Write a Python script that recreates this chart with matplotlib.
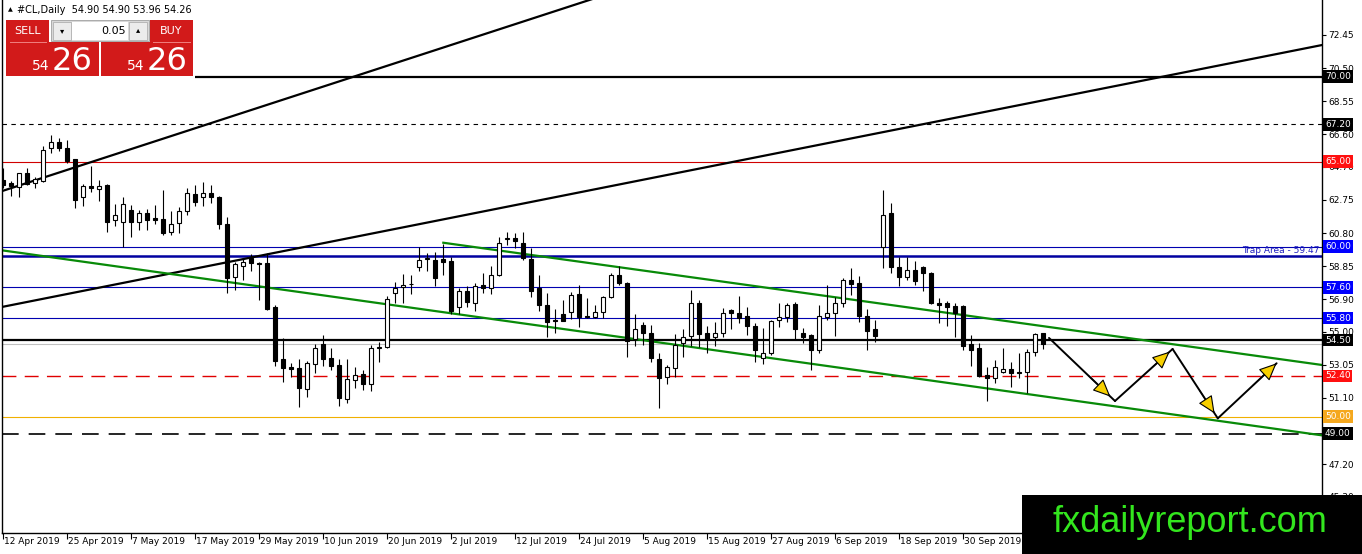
import numpy as np
import matplotlib
matplotlib.use('Agg')
import matplotlib.pyplot as plt
from matplotlib.patches import Rectangle
import matplotlib.transforms as mtransforms

# daily candles of #CL, 12 Apr 2019 .. 14 Oct 2019
opens = [63.92, 63.76, 63.53, 64.31, 63.76, 63.88, 65.78, 66.14, 65.80, 65.14,
         62.90, 63.57, 63.37, 63.63, 61.57, 61.43, 62.16, 61.43, 61.96, 61.67,
         61.63, 60.88, 61.37, 62.10, 63.10, 62.90, 63.18, 62.90, 61.33, 58.20,
         58.88, 59.31, 59.06, 59.06, 56.43, 53.37, 52.90, 52.84, 51.61, 53.10,
         54.27, 53.43, 53.04, 51.02, 52.16, 52.51, 51.92, 54.04, 54.08, 57.26,
         57.64, 57.78, 58.82, 59.28, 59.21, 59.25, 59.17, 56.47, 57.41, 56.70,
         57.74, 57.55, 58.33, 60.43, 60.49, 60.23, 59.25, 57.55, 56.57, 55.67,
         56.04, 56.17, 57.21, 55.92, 55.88, 56.17, 57.02, 58.33, 57.84, 54.55,
         55.39, 54.90, 53.37, 52.35, 52.84, 54.31, 54.74, 56.70, 54.90, 54.70,
         54.94, 56.27, 56.08, 55.92, 55.33, 53.43, 53.73, 55.68, 55.84, 56.63,
         54.94, 54.80, 53.94, 55.88, 56.12, 56.70, 58.04, 57.84, 55.92, 55.14,
         60.00, 62.00, 58.78, 58.20, 58.63, 58.82, 58.43, 56.67, 56.70, 56.51,
         56.51, 54.27, 54.02, 52.45, 52.26, 52.65, 52.79, 52.62, 52.65, 53.82,
         54.90]
highs = [64.63, 63.86, 64.31, 64.61, 64.08, 65.92, 66.57, 66.37, 66.27, 65.14,
         63.69, 64.74, 63.92, 63.69, 62.51, 62.90, 62.45, 62.16, 62.20, 62.45,
         63.33, 62.11, 62.31, 63.43, 63.63, 63.82, 63.63, 62.98, 61.73, 59.12,
         59.26, 59.57, 59.12, 59.64, 56.57, 54.61, 53.17, 53.37, 53.29, 54.27,
         54.80, 54.02, 53.37, 53.37, 52.94, 52.74, 54.21, 54.41, 57.10, 57.94,
         58.39, 58.33, 59.96, 59.64, 59.70, 60.16, 59.41, 57.55, 57.69, 57.88,
         58.43, 58.86, 60.55, 60.88, 60.78, 60.88, 59.90, 58.33, 57.26, 56.31,
         56.86, 57.35, 57.74, 56.96, 56.57, 57.10, 58.47, 58.86, 57.94, 56.04,
         55.59, 55.39, 53.76, 53.04, 54.86, 55.14, 57.45, 56.86, 55.33, 55.59,
         56.37, 56.31, 57.10, 56.47, 55.53, 55.20, 55.68, 56.67, 56.70, 56.76,
         55.20, 54.86, 56.57, 57.74, 57.02, 58.14, 58.73, 58.27, 56.31, 55.68,
         63.33, 62.55, 59.37, 59.37, 59.17, 58.86, 58.53, 56.96, 56.82, 56.70,
         56.57, 54.80, 54.35, 52.94, 53.33, 54.02, 53.23, 53.76, 53.96, 54.94,
         54.90]
lows = [63.45, 62.98, 62.94, 63.63, 63.43, 63.82, 65.53, 65.64, 64.90, 62.26,
        62.39, 63.23, 62.70, 60.88, 61.21, 59.96, 60.59, 60.98, 60.98, 61.33,
        60.69, 60.69, 60.82, 61.86, 62.39, 62.39, 62.55, 61.02, 57.29, 57.45,
        58.04, 58.59, 56.86, 56.27, 52.98, 52.06, 52.35, 50.55, 51.14, 52.59,
        52.98, 52.74, 50.63, 50.82, 51.67, 51.57, 51.53, 53.23, 54.02, 56.67,
        56.70, 57.21, 58.59, 58.58, 57.69, 58.33, 56.04, 56.04, 56.43, 56.23,
        57.26, 57.21, 58.27, 60.10, 59.90, 59.21, 57.06, 56.23, 54.71, 54.94,
        55.64, 55.72, 55.29, 55.78, 55.78, 55.78, 56.96, 57.74, 53.53, 54.17,
        54.21, 53.23, 50.49, 51.92, 52.31, 53.53, 54.16, 54.12, 53.72, 54.16,
        54.70, 55.14, 55.53, 54.80, 53.23, 53.10, 53.63, 55.29, 55.59, 54.55,
        54.31, 52.74, 53.76, 55.68, 54.74, 56.47, 57.16, 55.59, 53.92, 54.41,
        58.73, 58.47, 57.70, 58.06, 57.74, 57.41, 56.63, 55.53, 55.33, 54.71,
        53.92, 52.98, 52.35, 50.94, 51.96, 52.55, 51.76, 52.25, 51.37, 53.57,
        53.96]
closes = [63.63, 63.57, 64.31, 63.67, 63.96, 65.69, 66.14, 65.78, 65.06, 62.74,
          63.57, 63.43, 63.57, 61.47, 61.86, 62.49, 61.43, 61.96, 61.57, 61.57,
          60.79, 61.33, 62.11, 63.14, 62.65, 63.14, 62.94, 61.33, 58.14, 58.98,
          59.12, 59.02, 58.98, 56.31, 53.29, 52.84, 52.82, 51.67, 53.14, 54.02,
          53.37, 52.98, 51.08, 52.20, 52.45, 51.92, 54.02, 54.12, 56.90, 57.55,
          57.74, 57.83, 59.21, 59.33, 58.14, 59.12, 56.23, 57.41, 56.76, 57.69,
          57.55, 58.33, 60.23, 60.49, 60.35, 59.31, 57.41, 56.57, 55.59, 55.63,
          55.64, 57.16, 55.88, 55.88, 56.14, 57.02, 58.33, 57.84, 54.47, 55.14,
          54.94, 53.43, 52.26, 52.90, 54.21, 54.70, 56.67, 54.86, 54.55, 54.90,
          56.12, 56.12, 55.78, 55.33, 53.92, 53.76, 55.64, 55.88, 56.57, 55.14,
          54.70, 53.94, 55.92, 56.12, 56.67, 58.04, 57.80, 55.92, 55.06, 54.74,
          61.86, 58.78, 58.20, 58.63, 58.00, 58.47, 56.70, 56.59, 56.47, 56.12,
          54.16, 53.92, 52.39, 52.26, 52.94, 52.79, 52.55, 52.57, 53.82, 54.86,
          54.26]

date_labels = ['12 Apr 2019', '25 Apr 2019', '7 May 2019', '17 May 2019', '29 May 2019',
               '10 Jun 2019', '20 Jun 2019', '2 Jul 2019', '12 Jul 2019', '24 Jul 2019',
               '5 Aug 2019', '15 Aug 2019', '27 Aug 2019', '6 Sep 2019', '18 Sep 2019',
               '30 Sep 2019']
price_ticks = [72.45, 70.50, 68.55, 66.60, 64.70, 62.75, 60.80, 58.85, 56.90, 55.00,
               53.05, 51.10, 49.15, 47.20, 45.30]

# horizontal levels drawn by the analyst
level_values = [70.00, 67.20, 65.00, 60.00, 57.60, 55.80, 54.50, 52.40, 50.00, 49.00]
level_colors = ['black', 'black', '#d00000', '#0000b0', '#0000b0', '#0000b0', 'black',
                '#e00000', '#f0b000', 'black']
box_colors = ['black', 'black', '#ff1010', '#0000ff', '#0000ff', '#0000ff', 'black',
              '#ff1010', '#f5a81e', 'black']
trap_level = 59.47
bid_level = 54.26

# trend lines (bar index, price)
trend_a = ([-0.375, 75.0], [63.23, 74.77])
trend_b = ([-0.375, 164.875], [56.43, 71.86])
channel_low = ([-0.375, 164.875], [59.80, 48.90])
channel_high = ([55.04, 164.875], [60.23, 53.04])

# projected path with arrows
path_x = [130.75, 139.0, 146.2, 151.85, 159.2]
path_y = [54.63, 50.92, 53.98, 49.90, 53.14]

W, H = 1362, 554
fig = plt.figure(figsize=(W / 100, H / 100), dpi=100)
fig.patch.set_facecolor('white')
ax = fig.add_axes([2 / W, (H - 533) / H, 1320 / W, 533 / H])
ax.set_xlim(-0.125, 164.875)
ax.set_ylim(72.45 - 498 / 17, 72.45 + 35 / 17)

# levels
for v, c in zip(level_values, level_colors):
    if v == 67.20:
        ax.axhline(v, color=c, lw=0.8, ls=(0, (4, 4)), zorder=1)
    elif v in (52.40, 49.00):
        ax.axhline(v, color=c, lw=1.0 if v == 52.40 else 1.2, ls=(0, (10, 6)), zorder=1)
    elif v == 70.00:
        ax.hlines(v, 24, 164.875, color=c, lw=1.6, zorder=1)
    elif v == 54.50:
        ax.axhline(v, color=c, lw=1.6, zorder=1)
    else:
        ax.axhline(v, color=c, lw=0.8, zorder=1)
ax.axhline(trap_level, color='#0000a0', lw=1.8, zorder=1)
ax.axhline(bid_level, color='#c0c0c0', lw=0.8, zorder=1)
ax.text(164.6, trap_level + 0.28, 'Trap Area - 59.47', color='#2020c0', fontsize=6.5,
        ha='right', va='center', zorder=2)

# trend lines
ax.plot(*trend_a, color='black', lw=1.6, zorder=2)
ax.plot(*trend_b, color='black', lw=1.6, zorder=2)
ax.plot(*channel_low, color='#088a08', lw=1.6, zorder=2)
ax.plot(*channel_high, color='#088a08', lw=1.6, zorder=2)

# candles
x = np.arange(len(opens))
o = np.array(opens)
c = np.array(closes)
ax.vlines(x, lows, highs, color='black', lw=0.8, zorder=3)
body_bottom = np.minimum(o, c)
body_h = np.maximum(np.abs(c - o), 0.03)
body_col = ['white' if cc >= oo else 'black' for oo, cc in zip(o, c)]
ax.bar(x, body_h, bottom=body_bottom, width=0.62, color=body_col, edgecolor='black',
       linewidth=0.8, zorder=4)

# arrows of the projected path
tips = [0.93, 0.95, 0.93, 1.0]
for k in range(4):
    x0, y0, x1, y1 = path_x[k], path_y[k], path_x[k + 1], path_y[k + 1]
    ax.plot([x0, x1], [y0, y1], color='black', lw=1.4, zorder=5, solid_capstyle='round')
    t = tips[k]
    tx, ty = x0 + (x1 - x0) * t, y0 + (y1 - y0) * t
    ax.annotate('', xy=(tx, ty), xytext=(x0 + (x1 - x0) * 0.6, y0 + (y1 - y0) * 0.6),
                arrowprops=dict(arrowstyle='-|>,head_length=1.0,head_width=0.45',
                                fc='#f7d000', ec='black', lw=0.8, mutation_scale=11,
                                shrinkA=0, shrinkB=0),
                zorder=6)

# axes frame
ax.spines['top'].set_visible(False)
for s in ['left', 'right', 'bottom']:
    ax.spines[s].set_linewidth(1.0)
ax.yaxis.tick_right()
ax.set_yticks(price_ticks)
ax.set_yticklabels(['%.2f' % v for v in price_ticks])
ax.tick_params(axis='y', length=3, width=0.8, pad=1.5, labelsize=6.5, direction='out')
ax.set_xticks(np.arange(len(date_labels)) * 8)
ax.set_xticklabels([])
ax.tick_params(axis='x', length=4, width=0.8, direction='out')

xtrans = mtransforms.blended_transform_factory(ax.transData, ax.transAxes)
for k, lab in enumerate(date_labels):
    ax.text(k * 8 + 0.1, -9 / 533, lab, transform=xtrans, fontsize=6.5, ha='left',
            va='center', clip_on=False)

ytrans = mtransforms.blended_transform_factory(ax.transAxes, ax.transData)
for v, bc in zip(level_values, box_colors):
    ax.text(1 + 3 / 1320, v, '%.2f' % v, transform=ytrans, fontsize=6.5, color='white',
            ha='left', va='center', clip_on=False, zorder=10,
            bbox=dict(boxstyle='square,pad=0.2', fc=bc, ec='none'))

# overlay in pixel units: header, trade panel, watermark
ov = fig.add_axes([0, 0, 1, 1], zorder=5)
ov.set_xlim(0, W)
ov.set_ylim(H, 0)
ov.axis('off')
ov.patch.set_visible(False)

ov.text(8, 10, '\u25b2', fontsize=4.5, va='center', ha='left')
ov.text(17, 10, '#CL,Daily  54.90 54.90 53.96 54.26', fontsize=7, va='center', ha='left')

red = '#d21a1a'
ov.add_patch(Rectangle((6, 20), 43, 22, fc=red, ec='none'))
ov.add_patch(Rectangle((150, 20), 43, 22, fc=red, ec='none'))
ov.add_patch(Rectangle((6, 42), 93, 34, fc=red, ec='none'))
ov.add_patch(Rectangle((101, 42), 92, 34, fc=red, ec='none'))
ov.plot([10, 46], [41.5, 41.5], color='#f08080', lw=0.7)
ov.plot([153, 190], [41.5, 41.5], color='#f08080', lw=0.7)
ov.add_patch(Rectangle((51, 20), 98, 21, fc='#d8d8d8', ec='#a0a0a0', lw=0.6))
ov.add_patch(Rectangle((53, 21.5), 18, 18, fc='#ececec', ec='#b0b0b0', lw=0.6))
ov.add_patch(Rectangle((72, 21.5), 56, 18, fc='white', ec='none'))
ov.add_patch(Rectangle((129, 21.5), 18, 18, fc='#ececec', ec='#b0b0b0', lw=0.6))
ov.text(62, 30.5, '\u25be', fontsize=6, ha='center', va='center')
ov.text(138, 30, '\u25b4', fontsize=6, ha='center', va='center')
ov.text(126, 30.5, '0.05', fontsize=8, ha='right', va='center')
ov.text(27.5, 31, 'SELL', fontsize=8, color='white', ha='center', va='center')
ov.text(171.5, 31, 'BUY', fontsize=8, color='white', ha='center', va='center')
ov.text(49, 70, '54', fontsize=10, color='white', ha='right', va='baseline')
ov.text(52, 70, '26', fontsize=23, color='white', ha='left', va='baseline')
ov.text(144, 70, '54', fontsize=10, color='white', ha='right', va='baseline')
ov.text(147, 70, '26', fontsize=23, color='white', ha='left', va='baseline')

ov.add_patch(Rectangle((1022, 495), 340, 59, fc='black', ec='none'))
ov.text(1190, 522, 'fxdailyreport.com', fontsize=26, color='#33e61e', ha='center',
        va='center', family='Liberation Sans')

fig.savefig('out.png', dpi=100)
